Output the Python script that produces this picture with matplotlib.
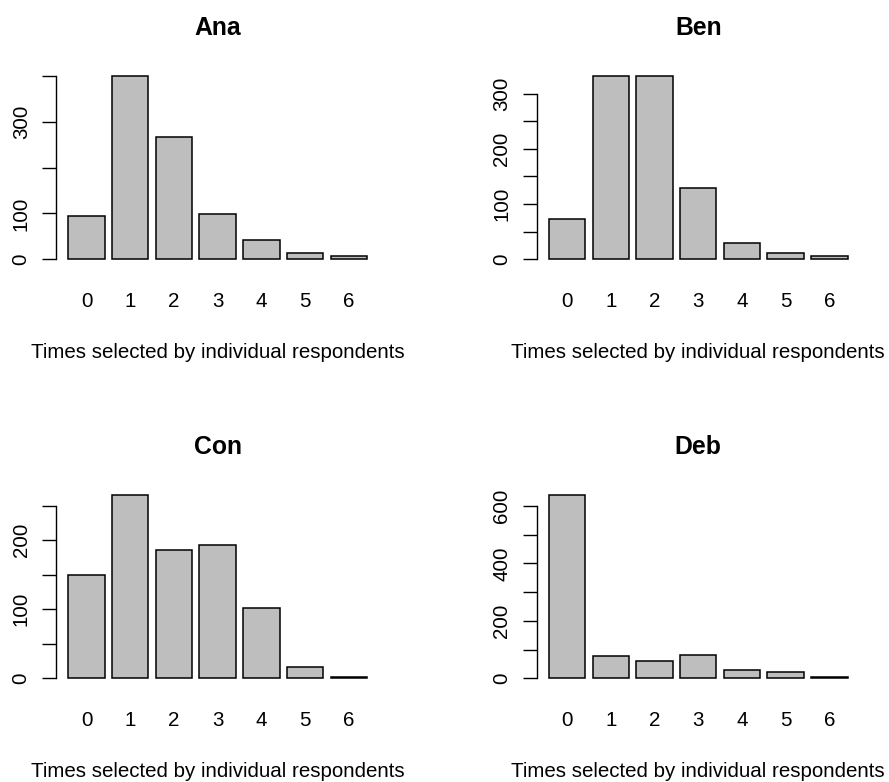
import matplotlib
matplotlib.use("Agg")
import matplotlib.pyplot as plt

# Data
counts = ["0", "1", "2", "3", "4", "5", "6"]
names = ["Ana", "Ben", "Con", "Deb"]
ana = [95, 400, 266, 98, 42, 14, 7]
ben = [73, 332, 332, 129, 29, 12, 6]
con = [149, 265, 186, 193, 102, 17, 2]
deb = [637, 79, 62, 80, 29, 23, 6]

# y axis ticks and which of them carry labels (R drops overlapping ones)
ana_ticks = [0, 100, 200, 300, 400]
ana_labels = ["0", "100", "", "300", ""]
ben_ticks = [0, 50, 100, 150, 200, 250, 300]
ben_labels = ["0", "", "100", "", "200", "", "300"]
con_ticks = [0, 50, 100, 150, 200, 250]
con_labels = ["0", "", "100", "", "200", ""]
deb_ticks = [0, 100, 200, 300, 400, 500, 600]
deb_labels = ["0", "", "200", "", "400", "", "600"]

XLABEL = "Times selected by individual respondents"

plt.rcParams["font.family"] = ["Liberation Sans", "DejaVu Sans"]

W, H = 889, 782
fig = plt.figure(figsize=(W / 100, H / 100), dpi=100)


def add_panel(left_px, top_px, title, values, ticks, labels):
    width_px, height_px = 322.5, 198
    ax = fig.add_axes([left_px / W, 1 - (top_px + height_px) / H, width_px / W, height_px / H])
    # R barplot geometry: width 1, space 0.2
    xs = [0.7 + 1.2 * i for i in range(len(values))]
    ax.bar(xs, values, width=1.0, color="#bebebe", edgecolor="black", linewidth=1.1)
    ax.set_xlim(-0.128, 8.728)
    top = max(values)
    ax.set_ylim(-0.04 * top, 1.04 * top)

    for side in ["top", "right", "bottom"]:
        ax.spines[side].set_visible(False)
    ax.spines["left"].set_bounds(ticks[0], ticks[-1])
    ax.spines["left"].set_linewidth(1.0)

    ax.set_yticks(ticks, labels)
    ax.tick_params(axis="y", length=10, width=1.0, pad=8.5, labelsize=14.8,
                   labelrotation=90)
    for lab in ax.get_yticklabels():
        lab.set_verticalalignment("center")

    ax.set_xticks(xs, counts)
    ax.tick_params(axis="x", length=0, pad=18, labelsize=14.8)
    ax.set_xlabel(XLABEL, fontsize=14.8, labelpad=23.5)
    ax.set_title(title, fontsize=17.8, fontweight="bold", pad=24)
    ax.patch.set_visible(False)
    return ax


add_panel(56.4, 68.6, names[0], ana, ana_ticks, ana_labels)
add_panel(537, 68.6, names[1], ben, ben_ticks, ben_labels)
add_panel(56.4, 487.8, names[2], con, con_ticks, con_labels)
add_panel(537, 487.8, names[3], deb, deb_ticks, deb_labels)

fig.savefig("out.png", dpi=100, facecolor="white")
